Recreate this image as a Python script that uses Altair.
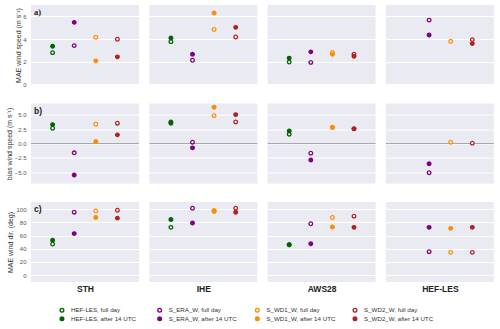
import altair as alt
import pandas as pd

stations = ["STH", "IHE", "AWS28", "HEF-LES"]
series = ["HEF-LES", "S_ERA_W", "S_WD1_W", "S_WD2_W"]
series_colors = ["#006400", "#800080", "#ff8c00", "#b22222"]
periods = ["full day", "after 14 UTC"]

# MAE of wind speed (m s-1), one value per station (STH, IHE, AWS28, HEF-LES)
ws_mae_full = {
    "HEF-LES": [2.80, 3.77, 1.97, None],
    "S_ERA_W": [3.42, 2.13, 1.94, 5.67],
    "S_WD1_W": [4.15, 4.85, 2.82, 3.80],
    "S_WD2_W": [3.98, 4.18, 2.66, 3.95],
}
ws_mae_after14 = {
    "HEF-LES": [3.36, 4.10, 2.32, None],
    "S_ERA_W": [5.47, 2.66, 2.87, 4.36],
    "S_WD1_W": [2.08, 6.30, 2.65, None],
    "S_WD2_W": [2.43, 5.03, 2.49, 3.60],
}

# bias of wind speed (m s-1)
ws_bias_full = {
    "HEF-LES": [2.67, 3.55, 1.63, None],
    "S_ERA_W": [-1.63, 0.23, -1.69, -5.12],
    "S_WD1_W": [3.37, 4.88, 2.80, 0.23],
    "S_WD2_W": [3.55, 3.78, 2.60, 0.06],
}
ws_bias_after14 = {
    "HEF-LES": [3.31, 3.78, 2.20, None],
    "S_ERA_W": [-5.52, -0.76, -2.90, -3.55],
    "S_WD1_W": [0.35, 6.34, 2.85, None],
    "S_WD2_W": [1.51, 5.06, 2.56, None],
}

# MAE of wind direction (deg)
wd_mae_full = {
    "HEF-LES": [47.0, 72.5, 46.0, None],
    "S_ERA_W": [95.5, 101.5, 78.0, 35.5],
    "S_WD1_W": [97.5, 98.0, 87.5, 34.5],
    "S_WD2_W": [98.5, 101.5, 89.5, 34.5],
}
wd_mae_after14 = {
    "HEF-LES": [53.0, 84.5, 46.0, None],
    "S_ERA_W": [63.0, 79.0, 47.5, 72.5],
    "S_WD1_W": [87.5, 96.5, 73.0, 71.0],
    "S_WD2_W": [86.5, 95.5, 72.5, 72.5],
}

row_tags = ["a)", "b)", "c)"]
row_titles = ["MAE wind speed (m s\u207b\u00b9)", "bias wind speed (m s\u207b\u00b9)", "MAE wind dir. (deg)"]
row_domains = [[-0.05, 7.0], [-7.0, 7.0], [-10.5, 111.0]]
row_ticks = [[0, 2, 4, 6], [-5, -2.5, 0, 2.5, 5], [0, 20, 40, 60, 80, 100]]
row_formats = ["d", ".1f", "d"]
row_data = [
    (ws_mae_full, ws_mae_after14),
    (ws_bias_full, ws_bias_after14),
    (wd_mae_full, wd_mae_after14),
]

# long table; row order = drawing order (each series: full day, then after 14 UTC)
records = []
for r, (full, after) in enumerate(row_data):
    for si, s in enumerate(series):
        for period, table in zip(periods, (full, after)):
            for st, v in zip(stations, table[s]):
                if v is None:
                    continue
                records.append({"row": r, "station": st, "pos": si,
                                "label": f"{s}, {period}", "value": v})
df = pd.DataFrame(records)

legend_order = [f"{s}, {p}" for p in periods for s in series]
fill_range = ["white"] * 4 + series_colors
stroke_range = series_colors + series_colors
size_range = [13] * 4 + [9] * 4

fill_scale = alt.Scale(domain=legend_order, range=fill_range)
stroke_scale = alt.Scale(domain=legend_order, range=stroke_range)
size_scale = alt.Scale(domain=legend_order, range=size_range)

FONT = "Liberation Sans"
title_x = [-13, -22, -21]

PANEL_W, PANEL_H = 108, 80
COL_GAP, ROW_GAP = 10.3, 18.5


def y_axis(r, c):
    if c == 0:
        return alt.Axis(values=row_ticks[r], format=row_formats[r], title=row_titles[r],
                        ticks=False, domain=False, grid=True, gridColor="white", gridWidth=1,
                        labelFont=FONT, labelFontSize=6, labelColor="#555555",
                        labelPadding=5, labelOverlap=False, labelFlush=False,
                        titleFont=FONT, titleFontSize=7, titleFontWeight="normal",
                        titleColor="#333333", titleX=title_x[r], titleY=PANEL_H / 2,
                        titleBaseline="middle", titleAngle=270)
    return alt.Axis(values=row_ticks[r], labels=False, ticks=False, domain=False,
                    title=None, grid=True, gridColor="white", gridWidth=1)


def panel(r, c):
    station = stations[c]
    yaxis = y_axis(r, c)
    yscale = alt.Scale(domain=row_domains[r], nice=False, zero=False)
    if r == 2:
        xaxis = alt.Axis(title=station, labels=False, ticks=False, domain=False, grid=False,
                         titleFont=FONT, titleFontSize=8.5, titleFontWeight="bold",
                         titleColor="#222222", titlePadding=2)
    else:
        xaxis = None

    pts = alt.Chart(df).transform_filter(
        (alt.datum.row == r) & (alt.datum.station == station)
    ).mark_point(filled=True, shape="circle", strokeWidth=1.3, opacity=1).encode(
        x=alt.X("pos:Q", scale=alt.Scale(domain=[-1, 4], nice=False, zero=False), axis=xaxis),
        y=alt.Y("value:Q", scale=yscale, axis=yaxis),
        fill=alt.Fill("label:N", scale=fill_scale, legend=None),
        stroke=alt.Stroke("label:N", scale=stroke_scale, legend=None),
        size=alt.Size("label:N", scale=size_scale, legend=None),
    )
    layers = []
    if r == 1:
        zero = alt.Chart(alt.Data(values=[{"z": 0}])).mark_rule(
            color="#a8a8a8", strokeWidth=1
        ).encode(y=alt.YDatum(0, scale=yscale, axis=yaxis))
        layers.append(zero)
    layers.append(pts)
    if c == 0:
        tag = alt.Chart(alt.Data(values=[{"t": row_tags[r]}])).mark_text(
            align="left", baseline="middle", fontWeight="bold", fontSize=8.5,
            font="Liberation Serif" if r == 0 else FONT, color="#222222"
        ).encode(text="t:N", x=alt.value(3), y=alt.value(7))
        layers.append(tag)
    return alt.layer(*layers).properties(width=PANEL_W, height=PANEL_H)


grid = alt.concat(
    *[panel(r, c) for r in range(3) for c in range(4)],
    columns=4, bounds="flush",
    spacing=alt.RowColnumber(row=ROW_GAP, column=COL_GAP),
)

# legend: 4 columns (series) x 2 rows (full day / after 14 UTC)
leg_df = pd.DataFrame({
    "label": legend_order,
    "col": [series.index(l.split(", ")[0]) for l in legend_order],
    "prow": [periods.index(l.split(", ")[1]) for l in legend_order],
})
LEG_W = 4 * PANEL_W + 3 * COL_GAP
leg_base = alt.Chart(leg_df).encode(
    x=alt.X("col:Q", scale=alt.Scale(domain=[-0.317, 4.422], nice=False, zero=False), axis=None),
    y=alt.Y("prow:Q", scale=alt.Scale(domain=[-0.5, 1.5], nice=False, zero=False, reverse=True), axis=None),
)
leg_sym = leg_base.mark_point(filled=True, shape="circle", strokeWidth=1.3, opacity=1).encode(
    fill=alt.Fill("label:N", scale=fill_scale, legend=None),
    stroke=alt.Stroke("label:N", scale=stroke_scale, legend=None),
    size=alt.value(14),
)
leg_txt = leg_base.mark_text(
    align="left", baseline="middle", dx=9, font=FONT, fontSize=6.2, color="#333333"
).encode(text="label:N")
legend_chart = alt.layer(leg_sym, leg_txt).properties(
    width=LEG_W, height=17, view=alt.ViewBackground(fill="white", strokeWidth=0)
)

chart = alt.vconcat(grid, legend_chart, spacing=12).configure_view(
    fill="#EAEAF2", strokeWidth=0
).properties(padding={"left": 5, "top": 5, "right": 5, "bottom": 5})

chart.save("out.html", embed_options={"renderer": "svg", "actions": False})
